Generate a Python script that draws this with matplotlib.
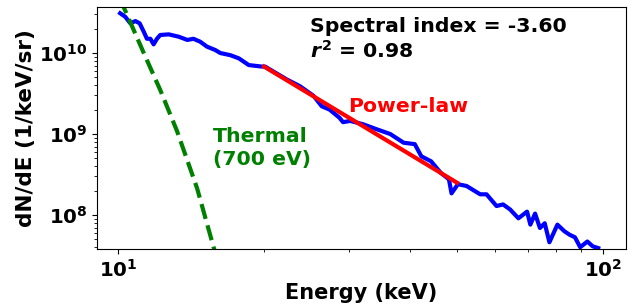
import matplotlib
matplotlib.use("Agg")
import matplotlib.pyplot as plt

plt.rcParams['font.weight'] = 'bold'
plt.rcParams['axes.labelweight'] = 'bold'
plt.rcParams['mathtext.fontset'] = 'custom'
plt.rcParams['mathtext.rm'] = 'DejaVu Sans:bold'
plt.rcParams['mathtext.it'] = 'DejaVu Sans:italic:bold'
plt.rcParams['mathtext.bf'] = 'DejaVu Sans:bold'

# measured spectrum (keV, 1/keV/sr)
energy = [10.1, 10.35, 10.6, 10.86, 11.08, 11.3, 11.47, 11.66, 11.84, 12.03,
          12.22, 12.72, 13.34, 13.9, 14.3, 14.77, 15.25, 15.86, 16.25, 17.05,
          17.74, 18.6, 19.8, 20.1, 22.3, 23.7, 25.3, 26.3, 27.3, 28.6,
          29.1, 30.1, 32.0, 34.2, 36.4, 38.8, 40.9, 42.2, 44.2, 46.3,
          48.1, 48.7, 50.2, 52.3, 55.8, 57.5, 60.3, 62.2, 64.3, 66.9,
          69.7, 70.8, 72.4, 74.1, 75.8, 77.5, 80.5, 83.2, 85.3, 87.5,
          89.7, 92.8, 95.2, 97.7]
flux = [3.1e10, 2.8e10, 2.33e10, 2.48e10, 2.33e10, 1.83e10, 1.5e10, 1.5e10, 1.28e10, 1.5e10,
        1.67e10, 1.7e10, 1.59e10, 1.45e10, 1.5e10, 1.38e10, 1.2e10, 1.09e10, 1.0e10, 9.4e9,
        8.6e9, 7.1e9, 6.8e9, 6.8e9, 4.7e9, 3.9e9, 2.96e9, 2.2e9, 2.0e9, 1.59e9,
        1.4e9, 1.45e9, 1.32e9, 1.14e9, 1.0e9, 7.8e8, 7.5e8, 5.3e8, 4.6e8, 3.3e8,
        2.76e8, 1.85e8, 2.4e8, 2.28e8, 1.8e8, 1.8e8, 1.29e8, 1.35e8, 1.17e8, 9.1e7,
        1.1e8, 7.6e7, 1.04e8, 6.9e7, 7.9e7, 4.6e7, 7.6e7, 6.3e7, 5.7e7, 5.3e7,
        4.0e7, 4.7e7, 4.1e7, 3.9e7]

# power-law fit
pl_energy = [20, 50]
pl_flux = [6.8e9, 2.5e8]

# thermal model (700 eV)
th_energy = [10.0, 10.27, 11.3, 12.22, 13.23, 14.55, 15.74, 16.1]
th_flux = [5.3e10, 3.7e10, 1.0e10, 3.49e9, 1.09e9, 2.15e8, 4.0e7, 2.6e7]

fig = plt.figure(figsize=(6.39, 3.05), dpi=100)
ax = fig.add_axes([0.1518, 0.1836, 0.8279, 0.7934])

ax.plot(energy, flux, color='blue', lw=3)
ax.plot(pl_energy, pl_flux, color='red', lw=3)
ax.plot(th_energy, th_flux, color='green', lw=3, ls='--')

ax.set_xscale('log')
ax.set_yscale('log')
ax.set_xlim(9.05, 111.5)
ax.set_ylim(3.8e7, 3.7e10)
ax.tick_params(labelsize=14.3)
ax.set_xlabel('Energy (keV)', fontsize=15, labelpad=2)
ax.set_ylabel('dN/dE (1/keV/sr)', fontsize=15.5, labelpad=2)

fs = 14.7
ax.text(0.403, 0.897, 'Spectral index = -3.60', transform=ax.transAxes,
        fontsize=fs, fontweight='bold', va='baseline')
ax.text(0.403, 0.789, '$r^2$ = 0.98', transform=ax.transAxes,
        fontsize=fs, fontweight='bold', va='baseline')
ax.text(0.4745, 0.566, 'Power-law', transform=ax.transAxes, color='red',
        fontsize=fs, fontweight='bold', va='baseline')
ax.text(0.219, 0.442, 'Thermal', transform=ax.transAxes, color='green',
        fontsize=fs, fontweight='bold', va='baseline')
ax.text(0.219, 0.347, '(700 eV)', transform=ax.transAxes, color='green',
        fontsize=fs, fontweight='bold', va='baseline')

fig.savefig('out.png', dpi=100)
